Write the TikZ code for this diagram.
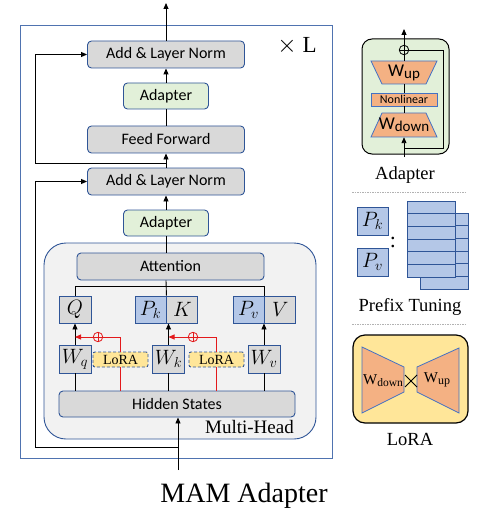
\documentclass[tikz,border=0pt]{standalone}
\usepackage{fontspec}
\setmainfont{Liberation Serif}
\newfontfamily\calib{Carlito}
\usetikzlibrary{arrows.meta,calc}
\definecolor{bdr}{HTML}{2F5597}
\definecolor{obdr}{HTML}{4F73B0}
\definecolor{gfill}{HTML}{D9D9D9}
\definecolor{grn}{HTML}{E2F0D9}
\definecolor{pblue}{HTML}{B4C7E7}
\definecolor{mhfill}{HTML}{F2F2F2}
\definecolor{orng}{HTML}{F4B183}
\definecolor{yel}{HTML}{FFE699}
\definecolor{lred}{HTML}{E31A1C}
\definecolor{trbdr}{HTML}{4472C4}
\begin{document}
\begin{tikzpicture}[x=1pt,y=-1pt,
 lbl/.style={font=\calib\fontsize{16}{18}\selectfont},
 gbox/.style={draw=bdr, line width=0.9pt, fill=gfill, rounded corners=4pt, inner sep=0, lbl},
 abox/.style={gbox, fill=grn},
 mbox/.style={draw=bdr, line width=0.9pt, fill=gfill, inner sep=0, minimum width=32, minimum height=27, font=\fontsize{22.5}{24}\selectfont},
 pbox/.style={mbox, fill=pblue},
 lorabox/.style={draw=bdr, dash pattern=on 3pt off 2pt, line width=0.9pt, fill=yel, rounded corners=2pt, inner sep=0, minimum width=55, minimum height=15, font=\fontsize{14}{15}\selectfont},
 arr/.style={line width=0.9pt, -{Triangle[length=6pt,width=5pt]}},
 ln/.style={line width=0.9pt},
 rln/.style={line width=0.9pt, draw=lred},
 rarr/.style={rln, -{Triangle[length=6pt,width=5pt]}, lred},
 oplus/.style={circle, draw=#1, inner sep=0, minimum size=9.5, line width=0.8pt,
   path picture={\draw[#1, line width=0.8pt] (path picture bounding box.north) -- (path picture bounding box.south) (path picture bounding box.west) -- (path picture bounding box.east);}},
 ttl/.style={font=\fontsize{18.5}{20}\selectfont, inner sep=0, anchor=base},
 trap/.style={draw=trbdr, fill=orng, line width=0.8pt},
 dots/.style={gray!60, line width=0.8pt, dash pattern=on 1.5pt off 1pt},
 stk/.style={draw=bdr, fill=pblue, line width=0.8pt}
]
\useasboundingbox (0,0) rectangle (490,513);

% ---------- main diagram ----------
\node[draw=obdr, line width=1pt, minimum width=312, minimum height=432, inner sep=0] (outer) at (176,242) {};
\node[draw=bdr, line width=0.9pt, fill=mhfill, rounded corners=22pt, minimum width=272, minimum height=196, inner sep=0] (mh) at (180,341) {};
\node[font=\fontsize{23}{24}\selectfont, inner sep=0, anchor=base] (xl) at (297,53) {$\times$ L};

\node[gbox, minimum width=157, minimum height=27] (aln2) at (166,54.5) {Add \& Layer Norm};
\node[abox, minimum width=85, minimum height=26] (ad2) at (166,96) {Adapter};
\node[gbox, minimum width=157, minimum height=27] (ff) at (166,139.5) {Feed Forward};
\node[gbox, minimum width=157, minimum height=27] (aln1) at (166,181.5) {Add \& Layer Norm};
\node[abox, minimum width=85, minimum height=26] (ad1) at (166,223) {Adapter};
\node[gbox, minimum width=187, minimum height=27] (att) at (170.5,266.5) {Attention};

\node[mbox] (Q) at (75,309.5) {$Q$};
\node[pbox, minimum width=31] (Pk) at (150.5,309.5) {$P_k$};
\node[mbox, minimum width=31, anchor=west] (K) at (Pk.east) {$K$};
\node[pbox, minimum width=31] (Pv) at (248.5,309.5) {$P_v$};
\node[mbox, minimum width=31, anchor=west] (V) at (Pv.east) {$V$};

\node[mbox, minimum height=28] (Wq) at (75,359) {$W_q$};
\node[lorabox] (L1) at (120.5,359.5) {LoRA};
\node[mbox, minimum height=28] (Wk) at (168.5,359) {$W_k$};
\node[lorabox] (L2) at (216.5,359.5) {LoRA};
\node[mbox, minimum height=28] (Wv) at (264,359) {$W_v$};

\node[gbox, minimum width=236, minimum height=26] (hs) at (177,404) {Hidden States};
\node[font=\fontsize{19}{20}\selectfont, anchor=base east, inner sep=0] (mhl) at (294,433) {Multi-Head};
\node[font=\fontsize{28}{30}\selectfont, anchor=base, inner sep=0] (mam) at (244,502) {MAM Adapter};

% connectors
\coordinate (top) at (166,3);
\draw[arr] (aln2.north) -- (top);
\draw[arr] (ad2.north) -- (aln2.south);
\draw[ln] (ff.north) -- (ad2.south);
\draw[arr] (aln1.north) -- (ff.south);
\coordinate (r1) at (166,163);
\coordinate (r1a) at (35,163);
\draw[arr] (r1) -- (r1a) |- (aln2.west);
\draw[arr] (ad1.north) -- (aln1.south);
\draw[ln] (att.north -| ad1.south) -- (ad1.south);
\coordinate (hl) at (75,286);
\draw[ln] (att.south -| ad1.south) -- (Pk.north east);
\draw[ln] (Q.north) -- (Q.north |- hl) -- (hl -| V.north west) -- (V.north west);

\draw[arr] (Wq.north) -- (Q.south);
\draw[arr] (Wk.north) -- (Wk.north |- K.south);
\draw[arr] (Wv.north) -- (Wv.north |- V.south);
\draw[ln] (hs.north -| Wq.south) -- (Wq.south);
\draw[ln] (hs.north -| Wk.south) -- (Wk.south);
\draw[ln] (hs.north -| Wv.south) -- (Wv.south);

\node[oplus=lred] (p1) at (98,337) {};
\draw[rln] (hs.north -| L1.south) -- (L1.south);
\draw[rln] (L1.north) |- (p1.east);
\draw[rarr] (p1.west) -- (p1.west -| Q.south);
\node[oplus=lred] (p2) at (193,337) {};
\draw[rln] (hs.north -| L2.south) -- (L2.south);
\draw[rln] (L2.north) |- (p2.east);
\draw[rarr] (p2.west) -- (p2.west -| Wk.north);

\coordinate (in) at (178,470);
\draw[arr] (in) -- (in |- hs.south);
\coordinate (r2) at (178,447);
\coordinate (r2a) at (35,447);
\draw[arr] (r2) -- (r2a) |- (aln1.west);

% ---------- Adapter panel ----------
\node[draw, line width=1pt, fill=grn, rounded corners=10pt, minimum width=87, minimum height=115, inner sep=0] (apan) at (405.5,96.5) {};
\filldraw[trap] (371,61) -- (437,61) -- (426,84) -- (382,84) -- cycle;
\filldraw[trap] (382,113) -- (426,113) -- (437,137) -- (371,137) -- cycle;
\node[draw=trbdr, fill=orng, line width=0.8pt, minimum width=66, minimum height=13, inner sep=0, font=\calib\fontsize{12}{13}\selectfont] (nl) at (404,99.5) {Nonlinear};
\node[inner sep=0, minimum width=44, minimum height=23, font=\calib\fontsize{18}{19}\selectfont] (wup) at (404,72.5) {W\raisebox{-2pt}{\fontsize{15}{16}\selectfont up}};
\node[inner sep=0, minimum width=44, minimum height=24, font=\calib\fontsize{18}{19}\selectfont] (wdn) at (404,125) {W\raisebox{-2pt}{\fontsize{15}{16}\selectfont down}};
\node[oplus=black] (aplus) at (404,50) {};
\coordinate (aout) at (404,29);
\draw[arr] (aplus.north) -- (aout);
\draw[ln] (wup.north) -- (aplus.south);
\draw[ln] (nl.north) -- (wup.south);
\draw[ln] (wdn.north) -- (nl.south);
\coordinate (ain) at (404,157);
\draw[arr] (ain) -- (wdn.south);
\coordinate (ares) at (404,148);
\coordinate (aresr) at (443,148);
\draw[ln] (ares) -- (aresr) |- (aplus.east);
\node[ttl] (adl) at (405,179) {Adapter};
\draw[dots] (352,192) -- (467,192);

% ---------- Prefix tuning panel ----------
\node[pbox, minimum width=31, minimum height=28] (PPk) at (372.5,221) {$P_k$};
\node[pbox, minimum width=31, minimum height=28] (PPv) at (372.5,262) {$P_v$};
\node[font=\fontsize{22}{24}\selectfont, inner sep=0] (colon) at (393,242) {:};
\foreach \i in {0,...,5} { \filldraw[stk] (420,213+12.667*\i) rectangle ++(48,12.667); }
\foreach \i in {0,...,5} { \filldraw[stk] (407,201+12.667*\i) rectangle ++(48,12.667); }
\node[ttl] (ptl) at (410,311.5) {Prefix Tuning};
\draw[dots] (352,324) -- (466,324);

% ---------- LoRA panel ----------
\node[draw, line width=1.2pt, fill=yel, rounded corners=12pt, minimum width=115, minimum height=88, inner sep=0] (lpan) at (410.5,379) {};
\filldraw[trap] (362,347) -- (404,367) -- (404,392) -- (362,413) -- cycle;
\filldraw[trap] (417,367) -- (459,348) -- (459,413) -- (417,392) -- cycle;
\draw[line width=1pt] (405,375) -- (417,387) (405,387) -- (417,375);
\node[inner sep=0, font=\fontsize{15}{16}\selectfont] (lwd) at (383,381) {W\raisebox{-2pt}{\fontsize{11.5}{12}\selectfont down}};
\node[inner sep=0, font=\fontsize{15}{16}\selectfont] (lwu) at (437,380) {W\raisebox{-2pt}{\fontsize{12}{13}\selectfont up}};
\node[ttl] (lorl) at (410,445) {LoRA};
\end{tikzpicture}
\end{document}
